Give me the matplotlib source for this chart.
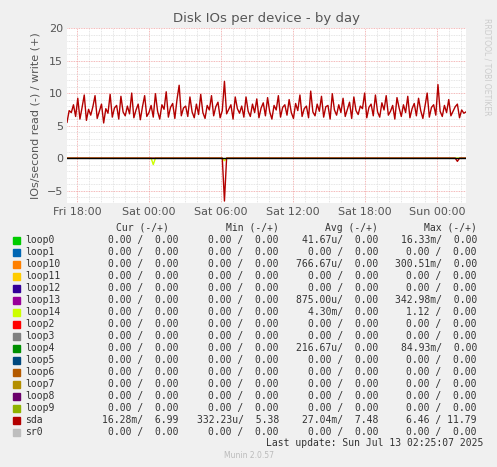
import matplotlib
matplotlib.use("Agg")
import matplotlib.pyplot as plt
import matplotlib.dates as mdates
import numpy as np
import datetime as dt

names = ["loop0","loop1","loop10","loop11","loop12","loop13","loop14","loop2","loop3",
         "loop4","loop5","loop6","loop7","loop8","loop9","sda","sr0"]
colors = ["#00CC00","#0066B3","#FF8000","#FFCC00","#330099","#990099","#CCFF00","#FF0000",
          "#808080","#008F00","#00487D","#B35A00","#B38F00","#6B006B","#8FB300","#B30000","#BEBEBE"]
cur = ["0.00 /  0.00"]*15 + ["16.28m/  6.99", "0.00 /  0.00"]
mins = ["0.00 /  0.00"]*15 + ["332.23u/  5.38", "0.00 /  0.00"]
avgs = ["41.67u/  0.00","0.00 /  0.00","766.67u/  0.00","0.00 /  0.00","0.00 /  0.00",
        "875.00u/  0.00","4.30m/  0.00","0.00 /  0.00","0.00 /  0.00","216.67u/  0.00",
        "0.00 /  0.00","0.00 /  0.00","0.00 /  0.00","0.00 /  0.00","0.00 /  0.00",
        "27.04m/  7.48","0.00 /  0.00"]
maxs = ["16.33m/  0.00","0.00 /  0.00","300.51m/  0.00","0.00 /  0.00","0.00 /  0.00",
        "342.98m/  0.00","1.12 /  0.00","0.00 /  0.00","0.00 /  0.00","84.93m/  0.00",
        "0.00 /  0.00","0.00 /  0.00","0.00 /  0.00","0.00 /  0.00","0.00 /  0.00",
        "6.46 / 11.79","0.00 /  0.00"]

sda_write = [5.5,7.3,7.0,8.2,6.4,9.2,6.0,7.8,9.7,5.8,7.5,6.6,7.9,9.6,6.1,7.2,8.3,5.4,7.6,6.9,
             9.8,6.3,7.7,8.1,6.0,9.5,7.1,6.5,8.0,6.8,10.0,6.2,7.4,8.3,5.9,7.9,9.6,6.4,7.0,8.1,
             6.3,9.9,7.2,6.0,8.2,7.5,10.2,6.3,7.8,8.4,6.1,9.0,11.2,6.5,7.7,8.0,6.4,9.4,7.1,6.2,
             8.3,6.7,9.8,7.0,6.1,8.1,7.4,9.6,6.5,7.9,8.6,6.2,7.3,11.8,6.8,7.5,8.2,6.0,9.4,7.6,
             6.9,8.0,6.3,9.4,7.2,6.4,8.3,7.0,9.1,6.2,7.7,8.5,6.5,9.3,7.1,6.0,8.1,7.4,9.6,6.3,
             7.8,8.2,6.6,9.0,7.0,6.1,8.4,7.3,9.7,6.4,7.6,8.0,6.2,10.3,7.1,6.5,8.3,7.2,9.5,6.3,
             7.9,8.1,6.0,9.9,7.4,6.6,8.2,7.0,9.2,6.4,7.5,8.6,6.1,9.4,7.3,6.7,8.0,7.6,10.0,6.2,
             7.8,8.3,6.5,9.7,7.1,6.3,8.5,7.4,9.6,6.6,7.2,8.1,6.0,9.3,7.7,6.4,8.2,7.0,9.5,6.2,
             7.6,8.4,6.5,9.2,7.3,6.1,8.0,10.0,6.3,7.8,8.2,6.6,11.3,7.2,6.4,8.1,7.0,9.0,6.5,7.2,
             7.9,8.3,6.2,7.4,6.9,7.1]
sda_read = [0.0]*len(sda_write)
sda_read[73] = -6.6
sda_read[181] = -0.5
loop14_read = [0.0]*len(sda_write)
loop14_read[40] = -1.0
loop14_read[73] = -0.4

start = dt.datetime(2025, 7, 11, 17, 10)
end = dt.datetime(2025, 7, 13, 2, 25)
n = len(sda_write)
step = (end - start) / (n - 1)
times = [start + i * step for i in range(n)]

fig = plt.figure(figsize=(4.97, 4.67), dpi=100, facecolor="#F0F0F0")
ax = fig.add_axes([67/497, (467-203)/467, 399/497, 175/467], facecolor="white")
ax.plot(times, loop14_read, color="#CCFF00", lw=1)
ax.plot(times, sda_write, color="#B30000", lw=1)
ax.plot(times, sda_read, color="#B30000", lw=1)
ax.axhline(0, color="black", lw=1)
ax.set_xlim(start, end)
ax.set_ylim(-6.9, 20)
ax.set_yticks([-5, 0, 5, 10, 15, 20])
ax.set_yticks(np.arange(-6, 20, 1), minor=True)
ax.xaxis.set_major_locator(mdates.HourLocator(byhour=[0, 6, 12, 18]))
ax.xaxis.set_major_formatter(mdates.DateFormatter("%a %H:%M"))
ax.xaxis.set_minor_locator(mdates.HourLocator())
ax.grid(which="minor", color="#DDDDDD", ls=(0, (1, 1)), lw=0.6)
ax.grid(which="major", color="#F0A0A0", ls=(0, (1, 1)), lw=0.6)
for s in ax.spines.values():
    s.set_visible(False)
ax.tick_params(which="both", length=0, labelsize=8, colors="#555555", pad=3)
ax.set_title("Disk IOs per device - by day", fontsize=9.5, color="#555555", pad=4)
ax.set_ylabel("IOs/second read (-) / write (+)", fontsize=8, color="#555555")
fig.text(487/497, 1-18/467, "RRDTOOL / TOBI OETIKER", rotation=270, fontsize=5.5,
         color="#CCCCCC", va="top", ha="center")

mono = dict(family="DejaVu Sans Mono", fontsize=7, color="#333333", va="center")
def Y(py): return 1 - py / 467
hy = 228
for txt, x in [("Cur (-/+)", 169), ("Min (-/+)", 279), ("Avg (-/+)", 378), ("Max (-/+)", 477)]:
    fig.text(x/497, Y(hy), txt, ha="right", **mono)
for i, nm in enumerate(names):
    py = 240 + i * 12.0
    fig.patches.append(plt.Rectangle((13/497, Y(py + 3.5)), 7/497, 7/467,
                                     transform=fig.transFigure, color=colors[i]))
    fig.text(25/497, Y(py), nm, ha="left", **mono)
    fig.text(178/497, Y(py), cur[i], ha="right", **mono)
    fig.text(279/497, Y(py), mins[i], ha="right", **mono)
    fig.text(378/497, Y(py), avgs[i], ha="right", **mono)
    fig.text(477/497, Y(py), maxs[i], ha="right", **mono)
fig.text(483/497, Y(443), "Last update: Sun Jul 13 02:25:07 2025", ha="right", **mono)
fig.text(249/497, Y(456), "Munin 2.0.57", ha="center", family="DejaVu Sans",
         fontsize=5.5, color="#BBBBBB", va="center")
fig.savefig("out.png", dpi=100, facecolor=fig.get_facecolor())
